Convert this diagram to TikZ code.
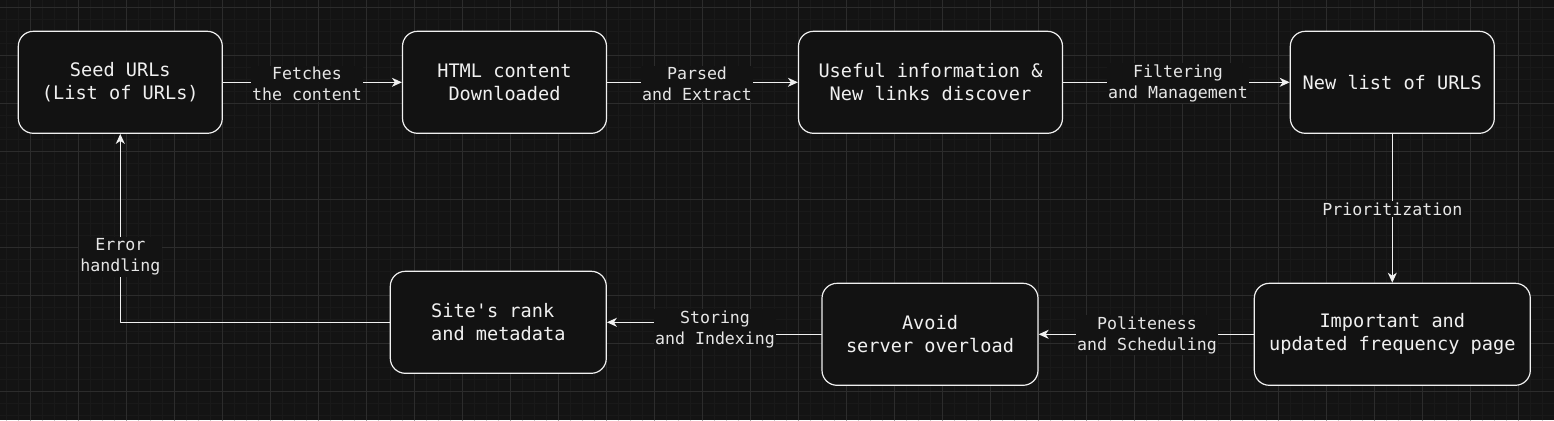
\documentclass[tikz,border=0pt]{standalone}
\usepackage{fontspec}
\setmonofont{DejaVu Sans Mono}
\usetikzlibrary{arrows.meta}
\definecolor{bgdark}{HTML}{131313}
\definecolor{boxfill}{HTML}{121212}
\definecolor{gridmaj}{HTML}{2C2C2C}
\definecolor{gridmin}{HTML}{191919}
\definecolor{linewh}{HTML}{F0F0F0}
\definecolor{lbltxt}{HTML}{E6E6E6}

\begin{document}
\begin{tikzpicture}[line cap=round,line join=round,x=1pt,y=-1pt,
	box/.style={draw=linewh,fill=boxfill,line width=1.2pt,rounded corners=15pt,minimum width=204pt,minimum height=102pt,inner sep=0pt,align=center,text=linewh,font=\ttfamily\fontsize{18.6}{23}\selectfont},
	lbl/.style={fill=bgdark,inner sep=1.5pt,align=center,text=lbltxt,font=\ttfamily\fontsize{16.6}{21}\selectfont},
	arr/.style={draw=linewh,line width=1.2pt,-{Stealth[length=10pt,width=9pt,inset=3pt]}}]
		\useasboundingbox (0,0) rectangle (1554,420);
		\fill[bgdark] (0,0) rectangle (1554,420);
		% grid
		\foreach \gx in {6.3,18.3,...,1554} \draw[gridmin,line width=0.8pt] (\gx,0) -- (\gx,420);
		\foreach \gy in {7.3,19.3,...,420} \draw[gridmin,line width=0.8pt] (0,\gy) -- (1554,\gy);
		\foreach \gx in {30.3,78.3,...,1554} \draw[gridmaj,line width=0.8pt] (\gx,0) -- (\gx,420);
		\foreach \gy in {7.3,55.3,...,420} \draw[gridmaj,line width=0.8pt] (0,\gy) -- (1554,\gy);
		% boxes
		\node[box] (seed) at (120.3,82.3) {Seed URLs\\(List of URLs)};
		\node[box] (html) at (504.5,82.3) {HTML content\\Downloaded};
		\node[box,minimum width=264pt] (useful) at (930.5,82.3) {Useful information \&\\New links discover};
		\node[box] (newlist) at (1392.3,82.3) {New list of URLS};
		\node[box,minimum width=276pt] (important) at (1392.3,334.3) {Important and\\updated frequency page};
		\node[box,minimum width=216pt] (avoid) at (930,334.3) {Avoid\\server overload};
		\node[box,minimum width=216pt,align=left] (rank) at (498.3,322.3) {Site's rank\\and metadata};
		% connectors
		\coordinate (stomid) at (715,329);
		\draw[arr] (seed) -- (html);
		\draw[arr] (html) -- (useful);
		\draw[arr] (useful) -- (newlist);
		\draw[arr] (newlist) -- (important);
		\draw[arr] (important) -- (avoid);
		\draw[arr] (avoid.west) -| (stomid) |- (rank.east);
		\draw[arr] (rank.west) -| (seed.south);
		% labels
		\node[lbl] (fetch) at (307,84) {Fetches\\the content};
		\node[lbl] (parse) at (697,84) {Parsed\\and Extract};
		\node[lbl] (filter) at (1178,83) {Filtering\\and Management};
		\node[lbl] (prio) at (1392.3,209) {Prioritization};
		\node[lbl] (polite) at (1147,335) {Politeness\\and Scheduling};
		\node[lbl] (store) at (stomid) {Storing\\and Indexing};
		\node[lbl] (error) at (120.3,257) {Error\\handling};
	\end{tikzpicture}
\end{document}
